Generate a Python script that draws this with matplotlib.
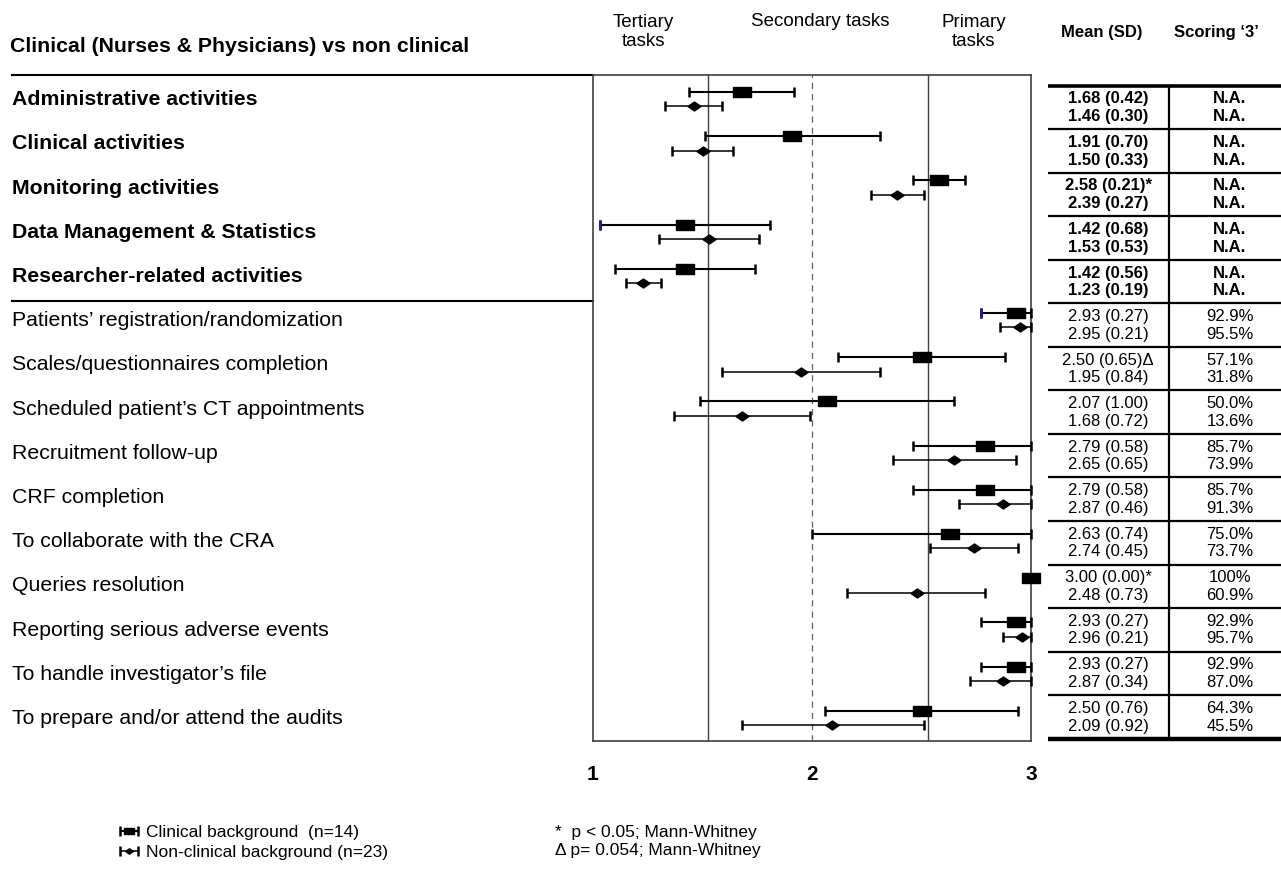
"""
Forest plot: tareas clinicas vs no clinicas (media e IC95%) con tabla de resultados.
"""

import numpy as np
import matplotlib
matplotlib.use("Agg")
import matplotlib.pyplot as plt
from matplotlib import transforms

plt.rcParams['font.family'] = ['Liberation Sans', 'DejaVu Sans']

# Datos
categorias = [
    "Administrative activities",
    "Clinical activities",
    "Monitoring activities",
    "Data Management & Statistics",
    "Researcher-related activities",
    "Patients\u2019 registration/randomization",
    "Scales/questionnaires completion",
    "Scheduled patient\u2019s CT appointments",
    "Recruitment follow-up",
    "CRF completion",
    "To collaborate with the CRA",
    "Queries resolution",
    "Reporting serious adverse events",
    "To handle investigator\u2019s file",
    "To prepare and/or attend the audits",
]
n_negrita = 5

media_clin = [1.68, 1.91, 2.58, 1.42, 1.42, 2.93, 2.50, 2.07, 2.79, 2.79, 2.63, 3.00, 2.93, 2.93, 2.50]
de_clin = [0.42, 0.70, 0.21, 0.68, 0.56, 0.27, 0.65, 1.00, 0.58, 0.58, 0.74, 0.00, 0.27, 0.27, 0.76]
ic_inf_clin = [1.44, 1.51, 2.46, 1.03, 1.10, 2.77, 2.12, 1.49, 2.46, 2.46, 2.00, 3.00, 2.77, 2.77, 2.06]
ic_sup_clin = [1.92, 2.31, 2.70, 1.81, 1.74, 3.00, 2.88, 2.65, 3.00, 3.00, 3.00, 3.00, 3.00, 3.00, 2.94]
marca_clin = ["", "", "*", "", "", "", "\u0394", "", "", "", "", "*", "", "", ""]
caps_azules = [3, 5]  # extremos inferiores que salen en azul en el original

media_no = [1.46, 1.50, 2.39, 1.53, 1.23, 2.95, 1.95, 1.68, 2.65, 2.87, 2.74, 2.48, 2.96, 2.87, 2.09]
de_no = [0.30, 0.33, 0.27, 0.53, 0.19, 0.21, 0.84, 0.72, 0.65, 0.46, 0.45, 0.73, 0.21, 0.34, 0.92]
ic_inf_no = [1.33, 1.36, 2.27, 1.30, 1.15, 2.86, 1.59, 1.37, 2.37, 2.67, 2.54, 2.16, 2.87, 2.72, 1.68]
ic_sup_no = [1.59, 1.64, 2.51, 1.76, 1.31, 3.00, 2.31, 1.99, 2.93, 3.00, 2.94, 2.79, 3.00, 3.00, 2.51]

puntuacion_clin = ["N.A."] * 5 + ["92.9%", "57.1%", "50.0%", "85.7%", "85.7%", "75.0%",
                                  "100%", "92.9%", "92.9%", "64.3%"]
puntuacion_no = ["N.A."] * 5 + ["95.5%", "31.8%", "13.6%", "73.9%", "91.3%", "73.7%",
                                "60.9%", "95.7%", "87.0%", "45.5%"]

W, H = 1281, 874


def fx(px):
    return px / W


def fy(py):
    return 1 - py / H


fig = plt.figure(figsize=(W / 100, H / 100), dpi=100)

# Forest plot
PASO = 44.2
alto_ax = (741 - 75) / H
ax = fig.add_axes([fx(593), fy(741), fx(1031) - fx(593), alto_ax])
ax.set_xlim(1, 3)
ax.set_ylim((741 - 75) / PASO, 0)

filas = np.arange(len(categorias))
y_clin = filas + 0.385
y_no = filas + 0.71

caja = [(-1, -0.59), (1, -0.59), (1, 0.59), (-1, 0.59), (-1, -0.59)]
rombo = [(-1, 0), (0, -0.68), (1, 0), (0, 0.68), (-1, 0)]

mc = np.array(media_clin)
mn = np.array(media_no)
eb_clin = ax.errorbar(mc, y_clin, xerr=[mc - np.array(ic_inf_clin), np.array(ic_sup_clin) - mc],
                      linestyle='none', marker=caja, markersize=12.5, color='black',
                      elinewidth=1.5, capsize=3.3, capthick=1.8, clip_on=False, zorder=4)
eb_no = ax.errorbar(mn, y_no, xerr=[mn - np.array(ic_inf_no), np.array(ic_sup_no) - mn],
                    linestyle='none', marker=rombo, markersize=9.5, color='black',
                    elinewidth=1.1, capsize=3.3, capthick=1.8, clip_on=False, zorder=4)
ax.plot(np.array(ic_inf_clin)[caps_azules], y_clin[caps_azules], linestyle='none',
        marker='|', markersize=6.6, markeredgewidth=1.9, color='#1c1c9c', zorder=5)

ax.axvline(1.527, color='#404040', lw=1.0, zorder=1)
ax.axvline(2.0, color='#606060', lw=0.9, ls=(0, (5, 4)), zorder=1)
ax.axvline(2.531, color='#404040', lw=1.0, zorder=1)

for s in ax.spines.values():
    s.set_color('#404040')
    s.set_linewidth(1.2)

ax.set_xticks([1, 2, 3])
ax.set_xticklabels(['1', '2', '3'], fontweight='bold', fontsize=15)
ax.tick_params(axis='x', length=0, pad=17)
ax.set_yticks([])

# etiquetas de la izquierda
trans = transforms.blended_transform_factory(fig.transFigure, ax.transData)
for i, cat in enumerate(categorias):
    ax.text(fx(12), i + 0.56, cat, transform=trans, ha='left', va='center',
            fontsize=15.3, fontweight='bold' if i < n_negrita else 'normal')
ax.plot([fx(12), fx(593)], [0, 0], transform=trans, color='black', lw=1.5, clip_on=False)
ax.plot([fx(12), fx(593)], [5.12, 5.12], transform=trans, color='black', lw=1.5, clip_on=False)

fig.text(fx(10), fy(46), "Clinical (Nurses & Physicians) vs non clinical",
         fontsize=15.3, fontweight='bold', va='center')

# cabeceras de las zonas
fig.text(fx(643), fy(32), "Tertiary\ntasks", fontsize=13.5, ha='center', va='center', linespacing=1.1)
fig.text(fx(820), fy(21), "Secondary tasks", fontsize=13.5, ha='center', va='center')
fig.text(fx(974), fy(32), "Primary\ntasks", fontsize=13.5, ha='center', va='center', linespacing=1.1)

# Tabla
tab = fig.add_axes([fx(1048), fy(741), fx(1281) - fx(1048), alto_ax])
tab.set_xlim(0, 1)
tab.set_ylim(ax.get_ylim())
tab.axis('off')

tope = 0.24
paso_t = 0.985
fondo = 15.02
seps = tope + paso_t * filas
tab.hlines(seps[1:], 0, 1, color='black', lw=1.6, clip_on=False)
tab.hlines([tope], 0, 1, color='black', lw=2.6, clip_on=False)
tab.hlines([fondo], 0, 1, color='black', lw=3.2, clip_on=False)
tab.vlines(0.519, tope, fondo, color='black', lw=1.6, clip_on=False)

for i in filas:
    peso = 'bold' if i < n_negrita else 'normal'
    t1 = f"{media_clin[i]:.2f} ({de_clin[i]:.2f}){marca_clin[i]}"
    t2 = f"{media_no[i]:.2f} ({de_no[i]:.2f})"
    tab.text(0.258, seps[i] + 0.30, t1, ha='center', va='center', fontsize=12, fontweight=peso)
    tab.text(0.258, seps[i] + 0.70, t2, ha='center', va='center', fontsize=12, fontweight=peso)
    tab.text(0.781, seps[i] + 0.30, puntuacion_clin[i], ha='center', va='center', fontsize=12, fontweight=peso)
    tab.text(0.781, seps[i] + 0.70, puntuacion_no[i], ha='center', va='center', fontsize=12, fontweight=peso)

fig.text(fx(1102), fy(32), "Mean (SD)", fontsize=12, fontweight='bold', ha='center', va='center')
fig.text(fx(1174), fy(32), "Scoring \u20183\u2019", fontsize=12, fontweight='bold', ha='left', va='center')

# Leyenda
fig.legend([eb_clin, eb_no], ["Clinical background  (n=14)", "Non-clinical background (n=23)"],
           loc='upper left', bbox_to_anchor=(fx(120), fy(825)), frameon=False, fontsize=12.5,
           handlelength=1.05, handletextpad=0.45, labelspacing=0.26, borderpad=0,
           borderaxespad=0, markerscale=0.6)
fig.text(fx(555), fy(832), "*  p < 0.05; Mann-Whitney", fontsize=12.5, va='center')
fig.text(fx(555), fy(851), "\u0394 p= 0.054; Mann-Whitney", fontsize=12.5, va='center')

fig.savefig("out.png", dpi=100)
